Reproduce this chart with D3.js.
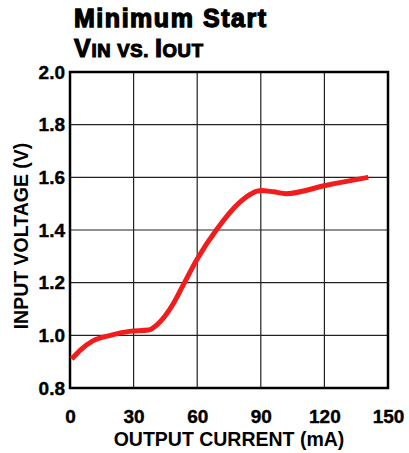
<!DOCTYPE html>
<html>
<head>
<meta charset="utf-8">
<script src="https://cdn.jsdelivr.net/npm/d3@7/dist/d3.min.js"></script>
<style>
  body { margin: 0; background: #fff; }
  text { font-family: "Liberation Sans", Arial, sans-serif; font-weight: bold; fill: #000; }
</style>
</head>
<body>
<svg id="chart"></svg>
<script>
// values
var current = [0.8, 5, 11, 19, 28, 37, 41, 48.7, 53, 60, 69, 80, 86, 90, 96, 102, 121, 140.7];
var voltage = [0.91, 0.945, 0.98, 1.0, 1.015, 1.02, 1.04, 1.12, 1.185, 1.29, 1.40, 1.505, 1.54, 1.55, 1.545, 1.538, 1.57, 1.60];
var xTicks = [0, 30, 60, 90, 120, 150];
var yTicks = [0.8, 1.0, 1.2, 1.4, 1.6, 1.8, 2.0];

var width = 409,
    height = 453;
var plot = { left: 70, right: 388, top: 72, bottom: 388 };

var svg = d3.select("#chart")
  .attr("width", width)
  .attr("height", height);

var x = d3.scaleLinear().domain([0, 150]).range([plot.left, plot.right]);
var y = d3.scaleLinear().domain([0.8, 2.0]).range([plot.bottom, plot.top]);

// title (heavy face, so a thin stroke is added)
svg.append("text")
  .attr("x", 74).attr("y", 27)
  .attr("font-size", 25)
  .attr("stroke", "#000").attr("stroke-width", 1.3)
  .attr("textLength", 192)
  .attr("lengthAdjust", "spacing")
  .text("Minimum Start");

var sub = svg.append("text")
  .attr("x", 74).attr("y", 57)
  .attr("font-size", 25)
  .attr("stroke", "#000").attr("stroke-width", 1.1)
  .attr("textLength", 129)
  .attr("lengthAdjust", "spacing");
sub.append("tspan").text("V");
sub.append("tspan").attr("font-size", 18.5).text("IN VS. ");
sub.append("tspan").text("I");
sub.append("tspan").attr("font-size", 18.5).text("OUT");

// grid
svg.append("g")
  .selectAll("line")
  .data(xTicks.slice(1, -1))
  .enter().append("line")
  .attr("x1", function (d) { return x(d); })
  .attr("x2", function (d) { return x(d); })
  .attr("y1", plot.top).attr("y2", plot.bottom)
  .attr("stroke", "#222").attr("stroke-width", 1.2);

svg.append("g")
  .selectAll("line")
  .data(yTicks.slice(1, -1))
  .enter().append("line")
  .attr("y1", function (d) { return y(d); })
  .attr("y2", function (d) { return y(d); })
  .attr("x1", plot.left).attr("x2", plot.right)
  .attr("stroke", "#222").attr("stroke-width", 1.2);

// frame
svg.append("rect")
  .attr("x", plot.left).attr("y", plot.top)
  .attr("width", plot.right - plot.left)
  .attr("height", plot.bottom - plot.top)
  .attr("fill", "none")
  .attr("stroke", "#000")
  .attr("stroke-width", 2.5);

// axes (labels only)
var xAxis = svg.append("g")
  .attr("transform", "translate(0," + plot.bottom + ")")
  .call(d3.axisBottom(x).tickValues(xTicks).tickSize(0).tickPadding(22).tickFormat(d3.format("d")));
xAxis.select(".domain").remove();
xAxis.selectAll("text")
  .attr("font-size", 19)
  .attr("font-family", "Liberation Sans, Arial, sans-serif")
  .attr("font-weight", "bold")
  .attr("stroke", "#000").attr("stroke-width", 0.4)
  .attr("fill", "#000");

var yAxis = svg.append("g")
  .attr("transform", "translate(" + plot.left + ",0)")
  .call(d3.axisLeft(y).tickValues(yTicks).tickSize(0).tickPadding(5).tickFormat(d3.format(".1f")));
yAxis.select(".domain").remove();
yAxis.selectAll("text")
  .attr("font-size", 19)
  .attr("font-family", "Liberation Sans, Arial, sans-serif")
  .attr("font-weight", "bold")
  .attr("stroke", "#000").attr("stroke-width", 0.4)
  .attr("fill", "#000");

// axis titles
svg.append("text")
  .attr("x", 229).attr("y", 446)
  .attr("text-anchor", "middle")
  .attr("font-size", 19.5)
  .text("OUTPUT CURRENT (mA)");

svg.append("text")
  .attr("transform", "translate(28,236) rotate(-90)")
  .attr("text-anchor", "middle")
  .attr("font-size", 19.5)
  .text("INPUT VOLTAGE (V)");

// curve
var points = current.map(function (c, i) { return [c, voltage[i]]; });
var line = d3.line()
  .x(function (d) { return x(d[0]); })
  .y(function (d) { return y(d[1]); })
  .curve(d3.curveMonotoneX);

svg.append("path")
  .datum(points)
  .attr("d", line)
  .attr("fill", "none")
  .attr("stroke", "#f21c1c")
  .attr("stroke-width", 5)
  .attr("stroke-linecap", "butt");
</script>
</body>
</html>
